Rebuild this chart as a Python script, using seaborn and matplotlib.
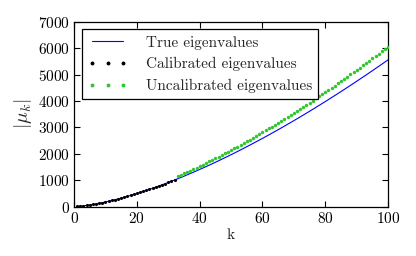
# ---DEPENDENCIES---------------------------------------------------------------
import seaborn as sns
import matplotlib.pyplot as plt
from matplotlib.lines import Line2D

# ---DATA-----------------------------------------------------------------------
k_true = list(range(1, 101))
true_vals = [
    6, 16, 29, 44, 62, 82, 103, 126, 150, 176,
    203, 231, 261, 291, 323, 356, 390, 425, 460, 497,
    535, 574, 613, 654, 695, 737, 780, 824, 868, 914,
    960, 1006, 1054, 1102, 1151, 1201, 1251, 1302, 1354, 1407,
    1460, 1513, 1568, 1623, 1678, 1735, 1792, 1849, 1907, 1966,
    2025, 2085, 2145, 2206, 2268, 2330, 2393, 2456, 2520, 2584,
    2649, 2714, 2780, 2847, 2914, 2981, 3049, 3118, 3187, 3256,
    3326, 3397, 3468, 3539, 3611, 3684, 3757, 3830, 3904, 3978,
    4053, 4129, 4204, 4280, 4357, 4434, 4512, 4590, 4668, 4747,
    4827, 4906, 4987, 5067, 5148, 5230, 5312, 5394, 5477, 5560,
]

k_cal = list(range(1, 33))
cal_vals = [
    6, 16, 29, 44, 62, 82, 103, 126, 150, 176,
    203, 231, 261, 291, 323, 356, 390, 425, 460, 497,
    535, 574, 613, 654, 695, 737, 780, 824, 868, 914,
    960, 1006,
]

k_uncal = list(range(33, 101))
uncal_vals = [
    1149, 1201, 1255, 1309, 1364, 1419, 1476, 1534,
    1591, 1649, 1709, 1769, 1829, 1891, 1953, 2015, 2079, 2143,
    2207, 2273, 2338, 2405, 2472, 2540, 2608, 2677, 2747, 2817,
    2887, 2958, 3030, 3103, 3176, 3249, 3323, 3399, 3474, 3549,
    3625, 3703, 3780, 3858, 3936, 4016, 4095, 4175, 4255, 4336,
    4418, 4501, 4582, 4665, 4749, 4833, 4918, 5003, 5088, 5174,
    5261, 5348, 5436, 5523, 5611, 5701, 5790, 5880, 5970, 6060,
]

# ---STYLE----------------------------------------------------------------------
sns.set_style("ticks")
plt.rcParams["font.family"] = ["cmr10", "DejaVu Serif"]
plt.rcParams["mathtext.fontset"] = "cm"
plt.rcParams["axes.formatter.use_mathtext"] = True
plt.rcParams["font.size"] = 11

blue = "#0000ff"
green = "#2ec82e"

# ---PLOT-----------------------------------------------------------------------
fig = plt.figure(figsize=(4.16, 2.56), dpi=100)
ax = fig.add_axes([0.178, 0.193, 0.755, 0.722])

sns.lineplot(x=k_true, y=true_vals, color=blue, linewidth=0.8, ax=ax)
sns.scatterplot(x=k_cal, y=cal_vals, color="black", s=5, linewidth=0, ax=ax, zorder=3)
sns.scatterplot(x=k_uncal, y=uncal_vals, color=green, s=6, linewidth=0, ax=ax, zorder=3)

ax.set_xlim(0, 100)
ax.set_ylim(0, 7000)
ax.set_xticks(range(0, 101, 20))
ax.set_yticks(range(0, 7001, 1000))
ax.tick_params(direction="in", top=True, right=True, length=4, width=0.8,
               labelsize=11, colors="black", pad=3)
for sp in ax.spines.values():
    sp.set_visible(True)
    sp.set_color("black")
    sp.set_linewidth(0.9)

ax.set_xlabel("k", fontsize=11, labelpad=2)
ax.set_ylabel(r"$|\mu_k|$", fontsize=14, labelpad=3)

handles = [
    Line2D([], [], color=blue, linewidth=0.8),
    Line2D([], [], color="black", marker="o", markersize=1.8, linestyle="none"),
    Line2D([], [], color=green, marker="o", markersize=1.8, linestyle="none"),
]
labels = ["True eigenvalues", "Calibrated eigenvalues", "Uncalibrated eigenvalues"]
leg = ax.legend(handles, labels, loc="upper left", numpoints=3, fontsize=11,
                frameon=True, fancybox=False, framealpha=1, edgecolor="black",
                handlelength=2.6, handletextpad=1.2, borderpad=0.4,
                labelspacing=0.5, borderaxespad=0.5)
leg.get_frame().set_linewidth(0.9)

plt.savefig("out.png", dpi=100)
